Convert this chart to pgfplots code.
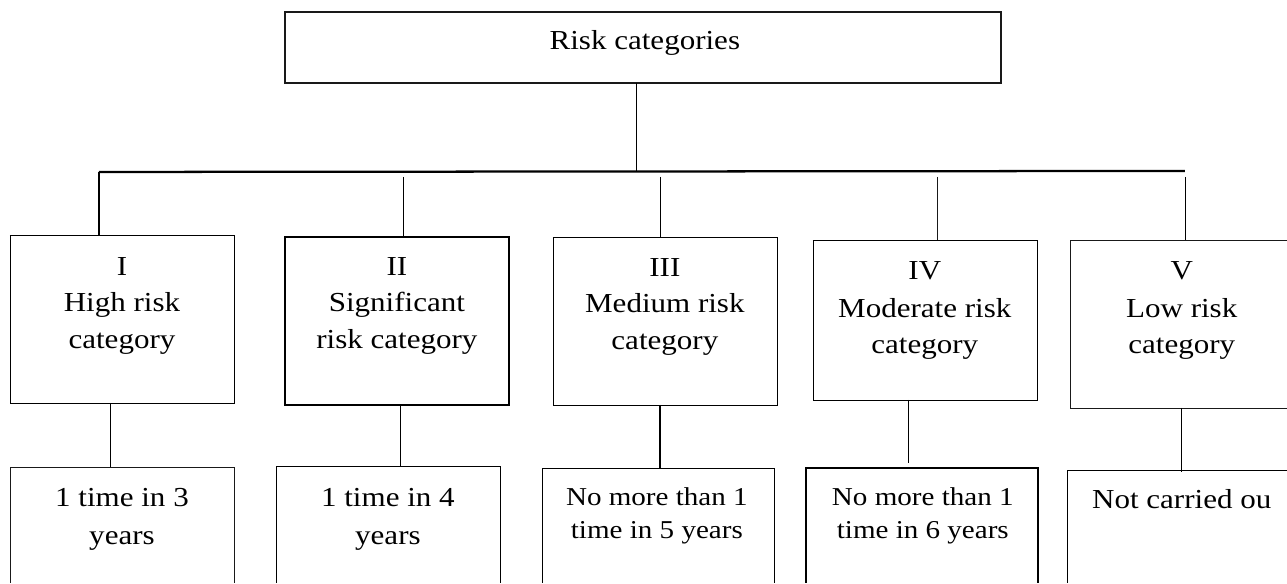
\documentclass[border=0pt]{standalone}
\usepackage{fontspec}
\setmainfont{Liberation Serif}[FakeStretch=1.13]
\usepackage{pgfplots}
\pgfplotsset{compat=1.18}
\newcommand\ftA{\fontsize{20.6pt}{24pt}\selectfont}
\newcommand\ftB{\fontsize{19.3pt}{23pt}\selectfont}
\begin{document}
\begin{tikzpicture}
\begin{axis}[
  width=965.25pt, height=437.25pt, scale only axis,
  xmin=0, xmax=1287, ymin=0, ymax=583, y dir=reverse,
  hide axis, clip=false,
  cycle list={{draw=black!90, solid, mark=none, line width=1.3pt, line join=miter, line cap=butt}},
]
\path (axis cs:0,0) rectangle (axis cs:1287,583);
% top box
\addplot+[line width=1.7pt] coordinates {(285,12) (1001,12) (1001,83) (285,83) (285,12) (1001,12)};
% connectors
\addplot coordinates {(636,83) (636,172)};
\addplot+[line width=1.7pt] coordinates {(99,172) (1185,171)};
\addplot coordinates {(99,172) (99,235)};
\addplot coordinates {(403,177) (403,237)};
\addplot coordinates {(660,177) (660,237)};
\addplot coordinates {(937,177) (937,240)};
\addplot coordinates {(1185,177) (1185,240)};
% row 1 boxes
\addplot coordinates {(10,235) (234,235) (234,403) (10,403) (10,235) (234,235)};
\addplot coordinates {(285,237) (509,237) (509,405) (285,405) (285,237) (509,237)};
\addplot coordinates {(553,237) (777,237) (777,405) (553,405) (553,237) (777,237)};
\addplot coordinates {(813,240) (1037,240) (1037,400) (813,400) (813,240) (1037,240)};
\addplot coordinates {(1287,240) (1070,240) (1070,408) (1287,408)};
% row 1 to row 2 connectors
\addplot coordinates {(110,403) (110,467)};
\addplot coordinates {(400,405) (400,466)};
\addplot coordinates {(660,405) (660,468)};
\addplot coordinates {(908,400) (908,463)};
\addplot coordinates {(1181,408) (1181,472)};
% row 2 boxes (open at the bottom)
\addplot coordinates {(10,583) (10,467) (234,467) (234,583)};
\addplot coordinates {(276,583) (276,466) (500,466) (500,583)};
\addplot coordinates {(542,583) (542,468) (774,468) (774,583)};
\addplot coordinates {(806,583) (806,468) (1038,468) (1038,583)};
\addplot coordinates {(1067,583) (1067,470) (1287,470)};
% texts
\tikzset{t/.style={anchor=base, inner sep=0pt, font=\ftA}, s/.style={anchor=base, inner sep=0pt, font=\ftB}}
\node[t] at (axis cs:645,50) {Risk categories};
\node[t] at (axis cs:122,276) {I};
\node[t] at (axis cs:122,312) {High risk};
\node[t] at (axis cs:122,349) {category};
\node[t] at (axis cs:397,276) {II};
\node[t] at (axis cs:397,312) {Significant};
\node[t] at (axis cs:397,349) {risk category};
\node[t] at (axis cs:665,277) {III};
\node[t] at (axis cs:665,313) {Medium risk};
\node[t] at (axis cs:665,350) {category};
\node[t] at (axis cs:925,280) {IV};
\node[t] at (axis cs:925,318) {Moderate risk};
\node[t] at (axis cs:925,354) {category};
\node[t] at (axis cs:1182,280) {V};
\node[t] at (axis cs:1182,318) {Low risk};
\node[t] at (axis cs:1182,354) {category};
\node[t] at (axis cs:122,507) {1 time in 3};
\node[t] at (axis cs:122,545) {years};
\node[t] at (axis cs:388,507) {1 time in 4};
\node[t] at (axis cs:388,545) {years};
\node[s] at (axis cs:657,506) {No more than 1};
\node[s] at (axis cs:657,539) {time in 5 years};
\node[s] at (axis cs:923,506) {No more than 1};
\node[s] at (axis cs:923,539) {time in 6 years};
\node[t] at (axis cs:1182,509) {Not carried ou};
\end{axis}
\end{tikzpicture}
\end{document}
